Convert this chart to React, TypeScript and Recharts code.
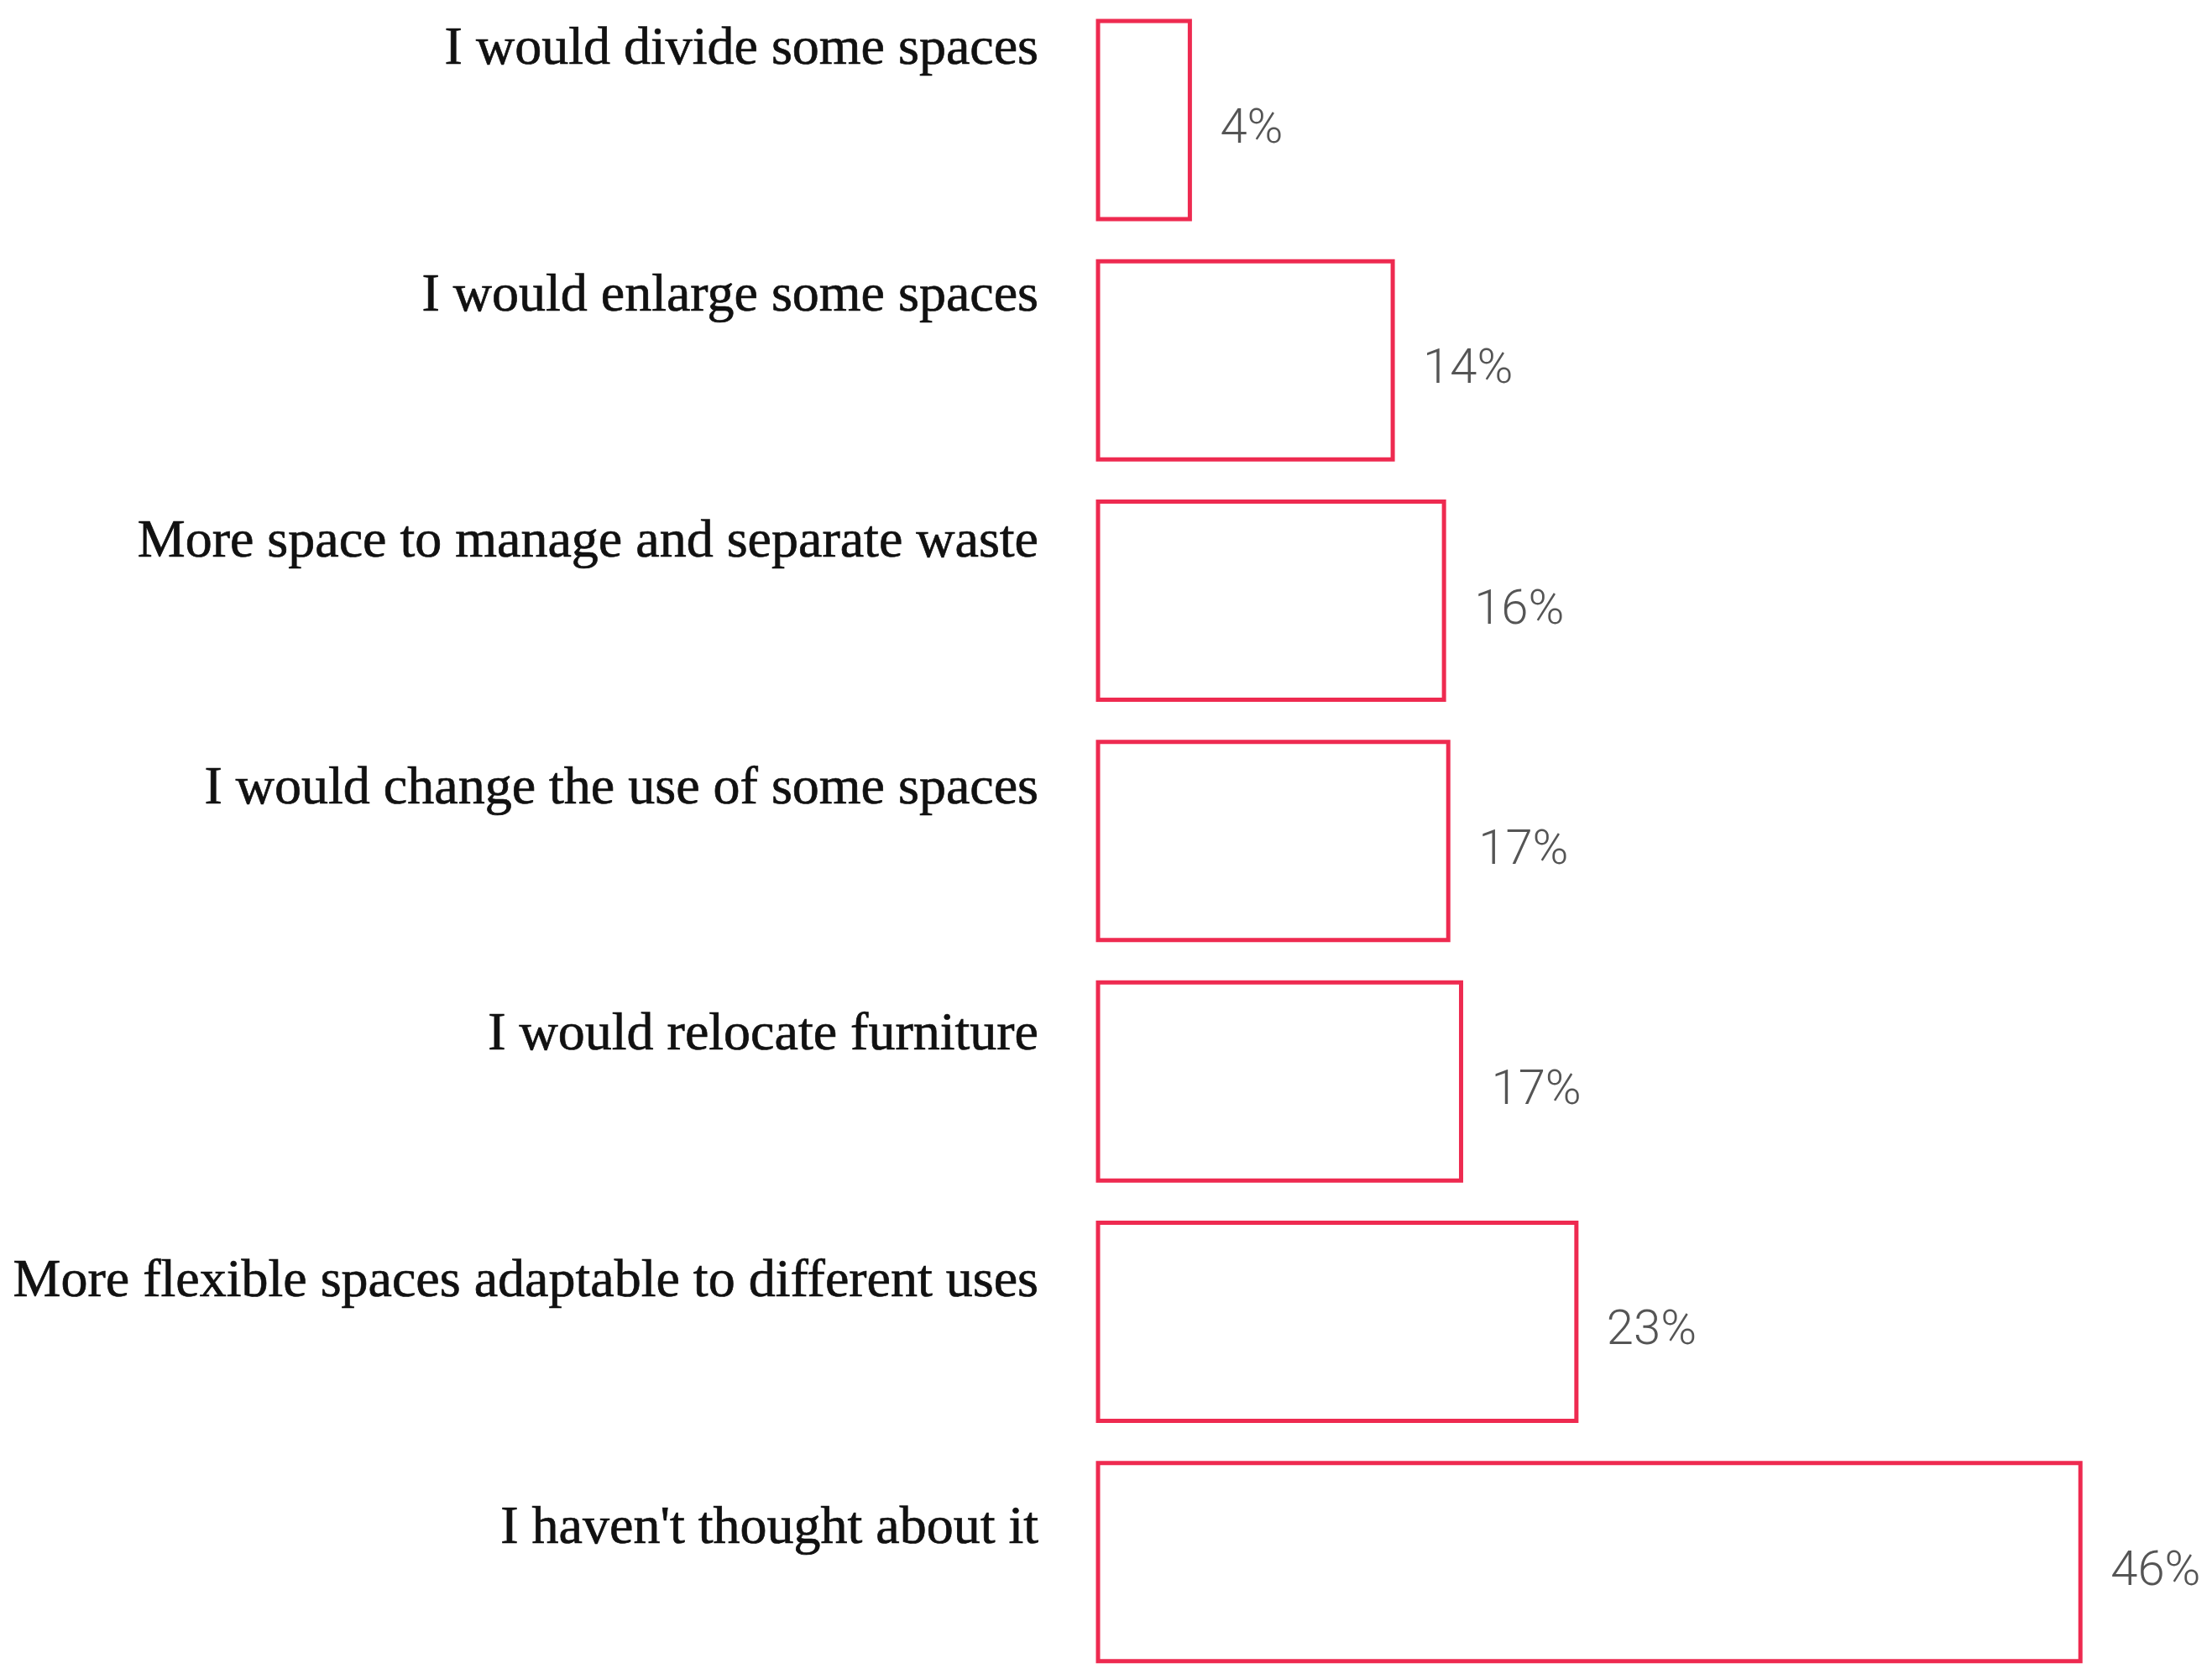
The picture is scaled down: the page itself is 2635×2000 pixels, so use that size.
import React from 'react';
import { BarChart, Bar, XAxis, YAxis, LabelList } from 'recharts';

// survey answers, top to bottom
const answers = [
  'I would divide some spaces',
  'I would enlarge some spaces',
  'More space to manage and separate waste',
  'I would change the use of some spaces',
  'I would relocate furniture',
  'More flexible spaces adaptable to different uses',
  "I haven't thought about it",
];

// bar lengths as drawn (percent)
const shares = [4.3, 13.8, 16.2, 16.4, 17.0, 22.4, 46.0];

// percentages printed next to the bars
const printed = [4, 14, 16, 17, 17, 23, 46];

const data = answers.map((answer, i) => ({ answer, share: shares[i], printed: printed[i] }));

const BAR_RED = '#EE2A50';

const AnswerTick = (props: any) => {
  const { x, y, payload } = props;
  const i = answers.indexOf(payload.value);
  // labels drift a bit lower relative to their bars going down
  const dy = -67 + 7.3 * i;
  return (
    <text
      x={x}
      y={y + dy}
      textAnchor="end"
      fill="#111"
      stroke="#111"
      strokeWidth={0.7}
      fontFamily="'Liberation Serif', 'Times New Roman', serif"
      fontSize={64}
    >
      {payload.value}
    </text>
  );
};

const renderPct = (props: any) => {
  const { x, y, width, height, index } = props;
  return (
    <text
      x={x + width + 36}
      y={y + height / 2 + 27}
      fill="#555"
      fontFamily="Roboto, 'Liberation Sans', sans-serif"
      fontWeight={300}
      fontSize={58}
    >
      {printed[index]}%
    </text>
  );
};

export default function App() {
  return (
    <div style={{ position: 'absolute', left: 0, top: 0, background: '#fff' }}>
      <BarChart
        width={2635}
        height={2004}
        data={data}
        layout="vertical"
        margin={{ top: 0, right: 55, bottom: 0, left: 0 }}
      >
        <XAxis type="number" domain={[0, 50]} hide />
        <YAxis
          type="category"
          dataKey="answer"
          width={1308}
          axisLine={false}
          tickLine={false}
          tickSize={0}
          tickMargin={71}
          interval={0}
          tick={AnswerTick}
        />
        <Bar
          dataKey="share"
          barSize={236}
          fill="#fff"
          stroke={BAR_RED}
          strokeWidth={5}
          isAnimationActive={false}
        >
          <LabelList dataKey="printed" content={renderPct} />
        </Bar>
      </BarChart>
    </div>
  );
}
